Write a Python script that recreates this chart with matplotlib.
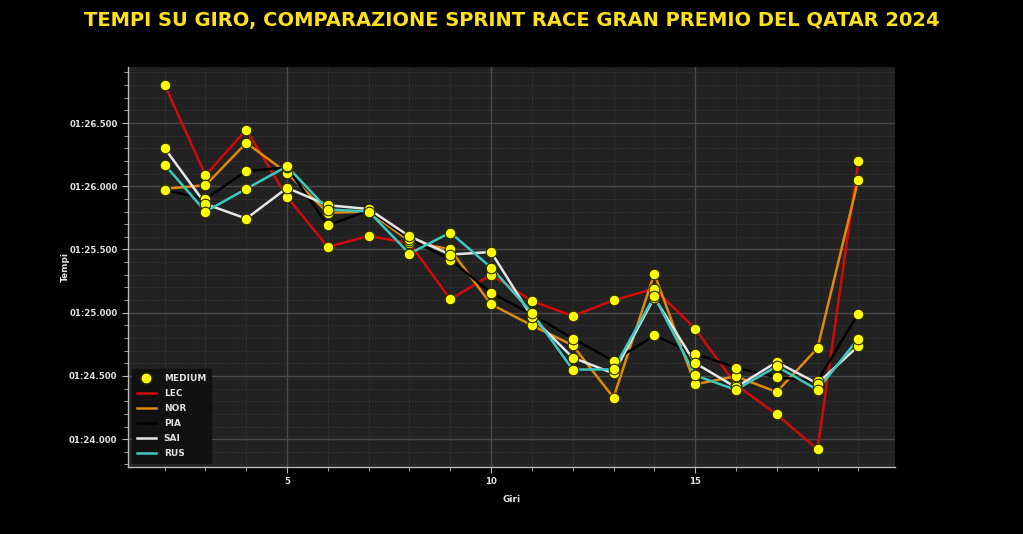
import matplotlib
matplotlib.use("Agg")
import matplotlib.pyplot as plt
from matplotlib.ticker import MultipleLocator, FuncFormatter
from matplotlib.lines import Line2D

laps = list(range(2, 20))

lec = [86.80, 86.087, 86.448, 85.915, 85.52, 85.607, 85.55, 85.106, 85.30,
       85.093, 84.974, 85.098, 85.19, 84.874, 84.43, 84.196, 83.919, 86.20]
nor = [85.98, 86.008, 86.343, 86.105, 85.79, 85.80, 85.565, 85.50, 85.066,
       84.90, 84.742, 84.328, 85.309, 84.434, 84.497, 84.373, 84.72, 86.053]
pia = [85.97, 85.90, 86.119, 86.15, 85.69, 85.81, 85.585, 85.42, 85.156,
       84.99, 84.795, 84.618, 84.82, 84.676, 84.566, 84.49, 84.46, 84.993]
sai = [86.30, 85.86, 85.744, 85.987, 85.85, 85.82, 85.604, 85.46, 85.48,
       84.966, 84.645, 84.52, 85.12, 84.602, 84.41, 84.61, 84.44, 84.737]
rus = [86.17, 85.80, 85.98, 86.158, 85.816, 85.80, 85.467, 85.634, 85.357,
       85.00, 84.55, 84.552, 85.13, 84.505, 84.39, 84.576, 84.39, 84.795]

drivers = ["LEC", "NOR", "PIA", "SAI", "RUS"]
series = [lec, nor, pia, sai, rus]
colors = ["#d10a0a", "#e08a0b", "#000000", "#e6e6e6", "#3cc8bf"]
compound = "MEDIUM"

fig = plt.figure(figsize=(10.23, 5.34), dpi=100, facecolor="black")
ax = fig.add_axes([0.1251, 0.1255, 0.7498, 0.749])
ax.set_facecolor("#222222")

for name, vals, c in zip(drivers, series, colors):
    ax.plot(laps, vals, color=c, lw=1.8, zorder=3)
for vals in series:
    ax.scatter(laps, vals, s=58, color="#ffff00", edgecolors="#2a2a00",
               linewidths=0.8, zorder=4)

ax.set_xlim(1.10, 19.90)
ax.set_ylim(83.78, 86.943)

ax.xaxis.set_major_locator(MultipleLocator(5))
ax.xaxis.set_minor_locator(MultipleLocator(1))
ax.yaxis.set_major_locator(MultipleLocator(0.5))
ax.yaxis.set_minor_locator(MultipleLocator(0.1))

def fmt(v, pos):
    m = int(v // 60)
    s = v - m * 60
    return f"{m:02d}:{s:06.3f}"
ax.yaxis.set_major_formatter(FuncFormatter(fmt))

ax.grid(which="major", color="#4a4a4a", lw=1.0, zorder=0)
ax.grid(which="minor", color="#383838", lw=0.6, ls=(0, (2, 2)), zorder=0)
ax.set_axisbelow(True)

for sp in ["top", "right"]:
    ax.spines[sp].set_visible(False)
for sp in ["left", "bottom"]:
    ax.spines[sp].set_color("#bbbbbb")
    ax.spines[sp].set_linewidth(1.0)

ax.tick_params(which="both", colors="#bbbbbb", labelcolor="#e0e0e0",
               labelsize=6.2)
ax.tick_params(which="major", length=4)
ax.tick_params(which="minor", length=3)
for lbl in ax.get_xticklabels() + ax.get_yticklabels():
    lbl.set_fontweight("bold")

ax.set_xlabel("Giri", color="#e0e0e0", fontsize=6.5, fontweight="bold")
ax.xaxis.set_label_coords(0.5, -0.07)
ax.set_ylabel("Tempi", color="#e0e0e0", fontsize=6.5, fontweight="bold")
ax.yaxis.set_label_coords(-0.076, 0.5)

handles = [Line2D([], [], ls="none", marker="o", markersize=8,
                  markerfacecolor="#ffff00", markeredgecolor="#2a2a00",
                  label=compound)]
for name, c in zip(drivers, colors):
    handles.append(Line2D([], [], color=c, lw=1.8, label=name))
leg = ax.legend(handles=handles, loc="lower left", fontsize=6.5,
                facecolor="#111111", edgecolor="#111111", framealpha=0.95,
                labelspacing=0.68, handlelength=2.2, handletextpad=0.8,
                borderpad=0.55, borderaxespad=0.4, fancybox=False)
for t in leg.get_texts():
    t.set_color("#e0e0e0")
    t.set_fontweight("bold")

fig.text(0.5, 0.9625, "TEMPI SU GIRO, COMPARAZIONE SPRINT RACE GRAN PREMIO DEL QATAR 2024",
         ha="center", va="center", color="#ffe11a", fontsize=14,
         fontweight="bold", family=["DejaVu Sans"])

fig.savefig("out.png", dpi=100, facecolor="black")
